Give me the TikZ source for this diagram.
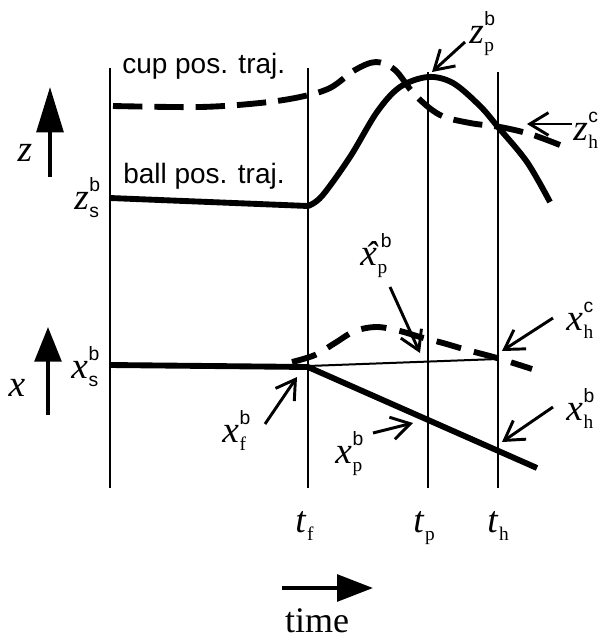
\documentclass[tikz,border=0pt]{standalone}
\usepackage{fontspec}
\setmainfont{Liberation Serif}
\setsansfont{Liberation Sans}
\usetikzlibrary{arrows.meta}
\newcommand{\scrsz}{\fontsize{14.5}{14.5}\selectfont}
\newcommand{\sym}[3]{\textit{#1}\kern0.5pt\rlap{\raisebox{13pt}{\scrsz\sffamily #2}}\raisebox{-6.5pt}{\scrsz #3}}
\newcommand{\hatx}{\rlap{\hspace{0.12em}\raisebox{-0.08em}{\char"02C6}}\textit{x}}
\begin{document}
\begin{tikzpicture}[x=0.75pt,y=-0.75pt,
  vline/.style={line width=2.2pt},
  traj/.style={line width=4.4pt,line join=round},
  cuptraj/.style={line width=4.4pt,dash pattern=on 22pt off 9pt},
  cupxtraj/.style={line width=4.4pt,dash pattern=on 19pt off 10pt},
  thinline/.style={line width=1.5pt},
  note/.style={line width=2.2pt,-{Straight Barb[length=14pt,width=17pt]}},
  lab/.style={inner sep=0pt,anchor=base west,font=\fontsize{28}{30}\selectfont},
  caplab/.style={inner sep=0pt,anchor=base west,font=\sffamily\fontsize{21}{24}\selectfont}
]
\useasboundingbox (0,0) rectangle (605,640);

% vertical time lines
\coordinate (v1t) at (110,68);  \coordinate (v1b) at (110,488);
\coordinate (v2t) at (308,68);  \coordinate (v2b) at (308,488);
\coordinate (v3t) at (428,72);  \coordinate (v3b) at (428,488);
\coordinate (v4t) at (498,72);  \coordinate (v4b) at (498,488);
\draw[vline] (v1t) -- (v1b);
\draw[vline] (v2t) -- (v2b);
\draw[vline] (v3t) -- (v3b);
\draw[vline] (v4t) -- (v4b);

% z trajectories
\draw[traj] (110,198) -- (308,206) -- plot[smooth,tension=0.55] coordinates
  {(308,206) (322,196) (350,157) (377,112) (400,87) (428,77) (453,83) (480,106) (498,127) (527,162) (550,202)};
\draw[cuptraj] plot[smooth,tension=0.55] coordinates
  {(113,106) (200,107) (260,103) (300,97) (330,88) (355,70) (376,62) (395,70) (415,95) (440,115) (470,123) (500,127) (530,134) (560,145)};

% x trajectories
\draw[traj] (110,365) -- (308,367) -- (537,468);
\draw[thinline] (308,366) -- (498,359);
\draw[cupxtraj] plot[smooth,tension=0.55] coordinates
  {(292,362) (315,355) (335,343) (355,331) (377,327) (400,331) (420,337) (443,343) (467,350) (497,358) (532,369)};

% captions
\node[caplab] (cuplab) at (122,73) {cup pos. traj.};
\node[caplab] (balllab) at (123,183) {ball pos. traj.};

% axis arrows
\coordinate (za0) at (50,177); \coordinate (za1) at (50,87);
\draw[line width=3pt,-{Triangle[length=34pt,width=20pt]}] (za0) -- (za1);
\node[lab,anchor=center] (zax) at (25,153) {\textit{z}};
\coordinate (xa0) at (48,415); \coordinate (xa1) at (48,327);
\draw[line width=3pt,-{Triangle[length=26pt,width=20pt]}] (xa0) -- (xa1);
\node[lab,anchor=center] (xax) at (17,388) {\textit{x}};
\coordinate (ta0) at (282,588); \coordinate (ta1) at (373,588);
\draw[line width=3pt,-{Triangle[length=27pt,width=20pt]}] (ta0) -- (ta1);
\node[inner sep=0pt,anchor=base,font=\fontsize{27}{30}\selectfont] (timelab) at (317,632) {time};

% time labels
\node[lab] (tf) at (295,532) {\sym{t}{}{f}};
\node[lab] (tp) at (413,532) {\sym{t}{}{p}};
\node[lab] (th) at (487,532) {\sym{t}{}{h}};

% start values
\node[lab] (zsb) at (74,209) {\sym{z}{b}{\sffamily s}};
\node[lab] (xsb) at (71,378) {\sym{x}{b}{\sffamily s}};

% annotated labels
\node[lab] (zpb) at (469,43) {\sym{z}{b}{p}};
\node[lab] (zhc) at (573,140) {\sym{z}{c}{h}};
\node[lab] (xhatpb) at (360,265) {\sym{\hatx}{\kern2.5pt b}{p}};
\node[lab] (xhc) at (566,330) {\sym{x}{c}{h}};
\node[lab] (xhb) at (566,420) {\sym{x}{b}{h}};
\node[lab] (xpb) at (335,463) {\sym{x}{b}{p}};
\node[lab] (xfb) at (222,442) {\sym{x}{b}{f}};

% annotation arrows
\coordinate (zpbT) at (465,42);  \coordinate (zpbH) at (432,72);
\coordinate (zhcT) at (572,124); \coordinate (zhcH) at (527,124);
\coordinate (xhpT) at (390,287); \coordinate (xhpH) at (420,353);
\coordinate (xhcT) at (553,318); \coordinate (xhcH) at (502,351);
\coordinate (xhbT) at (553,407); \coordinate (xhbH) at (502,442);
\coordinate (xpbT) at (373,433); \coordinate (xpbH) at (413,423);
\coordinate (xfbT) at (265,424); \coordinate (xfbH) at (297,377);
\draw[note] (zpbT) -- (zpbH);
\draw[note] (zhcT) -- (zhcH);
\draw[note] (xhpT) -- (xhpH);
\draw[note] (xhcT) -- (xhcH);
\draw[note] (xhbT) -- (xhbH);
\draw[note] (xpbT) -- (xpbH);
\draw[note] (xfbT) -- (xfbH);
\end{tikzpicture}
\end{document}
